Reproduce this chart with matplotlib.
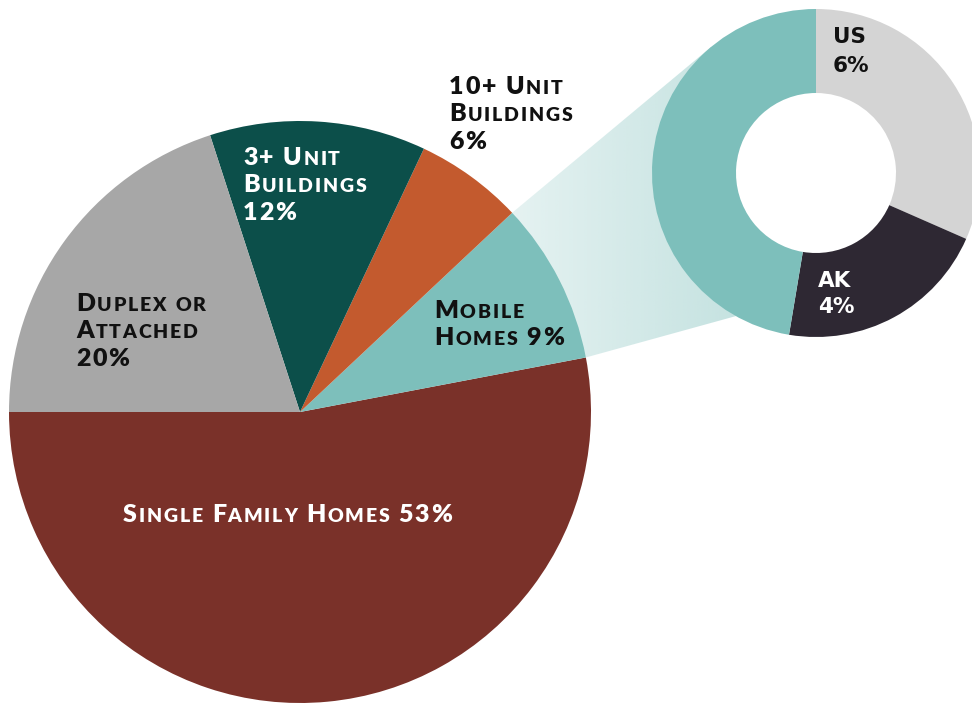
import numpy as np
import matplotlib
matplotlib.use("Agg")
import matplotlib.pyplot as plt
from matplotlib.offsetbox import TextArea, HPacker, VPacker, DrawingArea, AnnotationBbox
from matplotlib.patches import Polygon

# ---------------- data ----------------
categories = ["Single Family Homes", "Mobile Homes", "10+ Unit Buildings",
              "3+ Unit Buildings", "Duplex or Attached"]
shares = [53, 9, 6, 12, 20]
pie_colors = ["#7a3129", "#7dbfbb", "#c35a2e", "#0c4f4a", "#a7a7a7"]

donut_labels = ["US", "AK", "Mobile Homes"]
donut_values = [6, 4, 9]
donut_texts = ["6%", "4%"]
donut_colors = ["#d4d4d4", "#2e2833", "#7dbfbb"]

W, H = 972, 705
fig = plt.figure(figsize=(W / 100, H / 100), dpi=100)
ax = fig.add_axes([0, 0, 1, 1])

def Y(y):  # image y (top-down) to data y
    return H - y

pie_c = (300, Y(412))
pie_r = 291
don_c = (816, Y(173))
don_r = 164
don_w = 84

# main pie
wedges, _ = ax.pie(shares, colors=pie_colors, startangle=180, counterclock=True,
                   center=pie_c, radius=pie_r, wedgeprops=dict(linewidth=0),
                   frame=True)

# connector from the mobile homes wedge to the donut
mob = wedges[1]
t1, t2 = np.deg2rad(mob.theta1), np.deg2rad(mob.theta2)
p_low = (pie_c[0] + pie_r * np.cos(t1), pie_c[1] + pie_r * np.sin(t1))
p_up = (pie_c[0] + pie_r * np.cos(t2), pie_c[1] + pie_r * np.sin(t2))
dx, dy = don_c[0] - p_up[0], don_c[1] - p_up[1]
d = np.hypot(dx, dy)
ang = np.arctan2(dy, dx) + np.arcsin(don_r / d)
tl = np.sqrt(d ** 2 - don_r ** 2)
tan_pt = (p_up[0] + tl * np.cos(ang), p_up[1] + tl * np.sin(ang))
rm = don_r - don_w / 2
inner1 = (don_c[0] + rm * np.cos(np.deg2rad(185)), don_c[1] + rm * np.sin(np.deg2rad(185)))
inner2 = (don_c[0] + (don_r - 6) * np.cos(np.deg2rad(243)), don_c[1] + (don_r - 6) * np.sin(np.deg2rad(243)))
poly = Polygon([p_up, tan_pt, inner1, inner2, p_low], closed=True,
               facecolor="none", edgecolor="none")
ax.add_patch(poly)
x0, x1 = p_up[0], inner2[0]
grad = np.linspace(0, 1, 256)
rgba = np.zeros((2, 256, 4))
base = matplotlib.colors.to_rgb("#7dbfbb")
rgba[..., :3] = base
rgba[..., 3] = 0.2 + 0.3 * grad
im = ax.imshow(rgba, extent=(x0, x1 + 40, Y(380), Y(30)), aspect="auto",
               interpolation="bilinear", zorder=0.5)
im.set_clip_path(poly)

# donut
dw, _ = ax.pie(donut_values, colors=donut_colors, startangle=90, counterclock=False,
               center=don_c, radius=don_r,
               wedgeprops=dict(width=don_w, linewidth=0), frame=True)
for w in dw:
    w.set_zorder(2)

ax.set_xlim(0, W)
ax.set_ylim(0, H)
ax.set_aspect("equal")
ax.set_axis_off()

# ---------------- labels ----------------
FAM = "Lato"

def sc_line(text, big, color, track=1.3, ratio=0.78):
    kids = []
    for ch in text:
        if ch == " ":
            kids.append(DrawingArea(big * 0.22, 1))
            continue
        if ch.islower():
            kids.append(TextArea(ch.upper(), textprops=dict(size=big * ratio, color=color,
                                                             weight="heavy", family=FAM)))
        else:
            kids.append(TextArea(ch, textprops=dict(size=big, color=color,
                                                    weight="heavy", family=FAM)))
    return HPacker(children=kids, align="baseline", pad=0, sep=track)

def sc_label(x, y, lines, color, big=18, sep=3.8, track=1.3):
    rows = [sc_line(l, big, color, track) for l in lines]
    box = VPacker(children=rows, align="left", pad=0, sep=sep)
    ab = AnnotationBbox(box, (x, Y(y)), xycoords="data", frameon=False,
                        box_alignment=(0, 1), pad=0, zorder=5)
    ax.add_artist(ab)

sc_label(243, 147, ["3+ Unit", "Buildings", "12%"], "white")
sc_label(449, 76, ["10+ Unit", "Buildings", "6%"], "#111111")
sc_label(434, 300, ["Mobile", "Homes 9%"], "#111111")
sc_label(76, 293, ["Duplex or", "Attached", "20%"], "#111111")
sc_label(123, 504, ["Single Family Homes 53%"], "white")

dfont = dict(ha="left", va="baseline", fontsize=15.5, fontweight="bold",
             family="DejaVu Sans", zorder=5)
ax.text(833, Y(43), donut_labels[0], color="#111111", **dfont)
ax.text(833, Y(72), donut_texts[0], color="#111111", **dfont)
ax.text(818, Y(287), donut_labels[1], color="white", **dfont)
ax.text(818, Y(313), donut_texts[1], color="white", **dfont)

fig.savefig("out.png", dpi=100)
